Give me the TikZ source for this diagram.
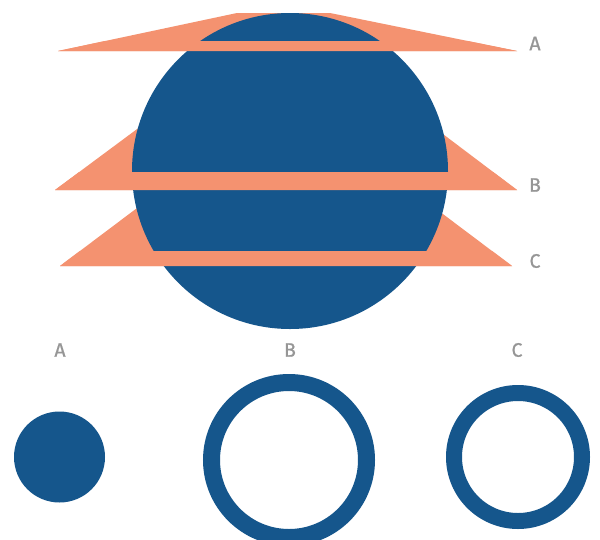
\documentclass[tikz,border=0pt]{standalone}
\usepackage{fontspec}
\setmainfont{Fira Sans}
\newfontfamily\labfont[FakeBold=0.8]{Fira Sans}
\definecolor{planet}{RGB}{21,86,140}
\definecolor{plane}{RGB}{244,146,112}
\definecolor{lbl}{RGB}{150,150,150}
\begin{document}
\begin{tikzpicture}[x=1pt,y=-1pt,
  lab/.style={text=lbl,font=\labfont\fontsize{19.5}{19.5}\selectfont,inner sep=0pt,anchor=center},
  pl/.style={fill=plane,draw=none},
  bl/.style={fill=planet,draw=none}]
\useasboundingbox (0,0) rectangle (600,539);
\fill[white] (0,0) rectangle (600,539);
% planes behind the sphere
\path[pl] (58,51) -- (237,13) -- (330,13) -- (517,51) -- cycle;
\path[pl] (55,190) -- (288,17) -- (517,190) -- cycle;
\path[pl] (60,266) -- (286,96) -- (512,266) -- cycle;
% sphere
\node[bl,circle,minimum size=316pt,inner sep=0pt] (sphere) at (290,171) {};
% bands in front
\begin{scope}
\clip (58,51) -- (237,13) -- (330,13) -- (517,51) -- cycle;
\fill[plane] (0,41) rectangle (600,52);
\end{scope}
\begin{scope}
\clip (55,190) -- (288,17) -- (517,190) -- cycle;
\fill[plane] (0,172) rectangle (600,191);
\end{scope}
\begin{scope}
\clip (60,266) -- (286,96) -- (512,266) -- cycle;
\fill[plane] (0,251) rectangle (600,267);
\end{scope}
% labels right
\node[lab] (la) at (535,43.5) {A};
\node[lab] (lb) at (535,185) {B};
\node[lab] (lc) at (535,261) {C};
% bottom labels
\node[lab] (ba) at (60,350) {A};
\node[lab] (bb) at (290,350) {B};
\node[lab] (bc) at (517,350) {C};
% cross sections
\node[bl,circle,minimum size=91pt,inner sep=0pt] (ca) at (59.5,457) {};
\node[circle,draw=planet,line width=17pt,minimum size=155pt,inner sep=0pt] (cb) at (289,460) {};
\node[circle,draw=planet,line width=16pt,minimum size=128pt,inner sep=0pt] (cc) at (518,457) {};
\end{tikzpicture}
\end{document}
